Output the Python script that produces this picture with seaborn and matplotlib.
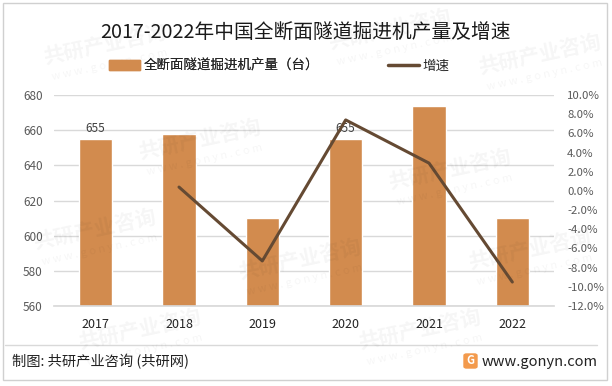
import numpy as np
import pandas as pd
import matplotlib
matplotlib.use('Agg')
import matplotlib.pyplot as plt
import seaborn as sns
from matplotlib.patches import Rectangle, FancyBboxPatch
from matplotlib.lines import Line2D

# data
years = ['2017', '2018', '2019', '2020', '2021', '2022']
output = [655, 658, 610, 655, 674, 610]          # 全断面隧道掘进机产量（台）
growth = [np.nan, 0.4, -7.3, 7.4, 2.9, -9.5]      # 增速 (%)
labeled = ['2017', '2020']                         # bars that carry a value label

sns.set_theme(style='white')
plt.rcParams['font.family'] = ['Noto Sans CJK SC', 'DejaVu Sans']

bar_color = '#D28B4E'
line_color = '#654A33'
tick_color = '#595959'

df = pd.DataFrame({'year': years, 'output': output, 'growth': growth})
df['pos'] = np.arange(len(df))

W, H = 612, 386
fig = plt.figure(figsize=(W / 100, H / 100), dpi=100)

# faint watermarks like the original
wm = [(105, 45), (390, 30), (540, 55), (200, 140), (450, 170),
      (95, 230), (300, 260), (530, 250), (140, 330), (420, 330)]
for x, y in wm:
    fig.text(x / W, 1 - y / H, '共研产业咨询', fontsize=15, fontweight='bold',
             color='#000000', alpha=0.04, rotation=12, ha='center', va='center')
    fig.text((x + 5) / W, 1 - (y + 20) / H, 'w w w . g o n y n . c o m', fontsize=8,
             color='#000000', alpha=0.04, rotation=12, ha='center', va='center')

ax = fig.add_axes([54 / W, 1 - 306 / H, 500 / W, 211 / H])
ax.patch.set_alpha(0)

sns.barplot(data=df, x='year', y='output', color=bar_color, width=0.4,
            saturation=1, ax=ax)
ax.set_ylim(560, 680)
ax.set_yticks(np.arange(560, 681, 20))
ax.set_xlim(-0.5, len(years) - 0.5)
ax.yaxis.grid(True, color='#D9D9D9', lw=1)
ax.set_axisbelow(True)
for s in ax.spines.values():
    s.set_visible(False)
ax.spines['bottom'].set_visible(True)
ax.spines['bottom'].set_color('#D9D9D9')
ax.set_xlabel('')
ax.set_ylabel('')
ax.tick_params(axis='y', labelsize=8.5, labelcolor=tick_color, length=0, pad=8)
ax.tick_params(axis='x', labelsize=9, labelcolor='#222222', length=0, pad=9)

for i, row in df.iterrows():
    if row['year'] in labeled:
        ax.text(row['pos'], row['output'] + 2.5, f"{row['output']}",
                ha='center', va='bottom', fontsize=8.5, color='#404040')

ax2 = ax.twinx()
sns.lineplot(data=df.dropna(), x='pos', y='growth', color=line_color, lw=2.2, ax=ax2)
ax2.set_ylim(-12, 10)
ax2.set_yticks(np.arange(-12, 10.1, 2))
ax2.set_yticklabels([f'{v:.1f}%' for v in np.arange(-12, 10.1, 2)])
ax2.set_xlim(-0.5, len(years) - 0.5)
ax2.set_xlabel('')
ax2.set_ylabel('')
for s in ax2.spines.values():
    s.set_visible(False)
ax2.tick_params(axis='y', labelsize=8.2, labelcolor=tick_color, length=0, pad=9.5)

# title and legend
fig.text(305 / W, 1 - 32 / H, '2017-2022年中国全断面隧道掘进机产量及增速',
         ha='center', va='center', fontsize=14.2, color='#1a1a1a')
leg1 = fig.legend([Rectangle((0, 0), 1, 1, color=bar_color)], ['全断面隧道掘进机产量（台）'],
                  loc='center left', bbox_to_anchor=(97 / W, 1 - 66 / H), frameon=False,
                  fontsize=9.7, handlelength=2.3, handleheight=0.75, handletextpad=0.25)
fig.legend([Line2D([0], [0], color=line_color, lw=2.5)], ['增速'],
           loc='center left', bbox_to_anchor=(376 / W, 1 - 66 / H), frameon=False,
           fontsize=9.7, handlelength=2.3, handletextpad=0.25)
fig.add_artist(leg1)

# footer
fig.add_artist(Line2D([5 / W, 597 / W], [1 - 345 / H] * 2, color='#D9D9D9', lw=1))
fig.text(12 / W, 1 - 362 / H, '制图: 共研产业咨询 (共研网)',
         ha='left', va='center', fontsize=10.3, color='#222222')
fig.text(598 / W, 1 - 362 / H, 'www.gonyn.com',
         ha='right', va='center', fontsize=10.5, color='#222222')
fig.add_artist(FancyBboxPatch((464 / W, 1 - 368 / H), 13 / W, 14 / H,
                              boxstyle='round,pad=0,rounding_size=0.004',
                              color='#F39A4C'))
fig.text(470.5 / W, 1 - 361 / H, 'G', ha='center', va='center', fontsize=8,
         fontweight='bold', color='white')

# outer frame
fig.add_artist(Rectangle((3 / W, 6 / H), 604 / W, 377 / H,
                         fill=False, edgecolor='#D0D0D0', lw=1))

fig.savefig('out.png', dpi=100)
